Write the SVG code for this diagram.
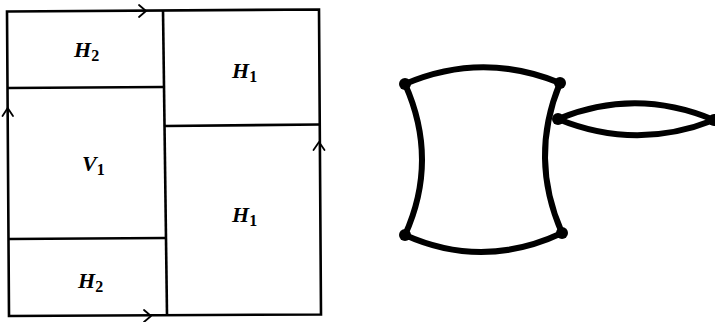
<svg xmlns="http://www.w3.org/2000/svg" width="715" height="322" viewBox="0 0 715 322">
<style>
.frame{fill:none;stroke:#000;stroke-width:2.6;stroke-linejoin:miter}
.arr{fill:none;stroke:#000;stroke-width:1.8;stroke-linecap:round;stroke-linejoin:round}
.lbl{font-family:"Liberation Serif","Times New Roman",serif;font-style:italic;font-weight:bold;font-size:22px;fill:#000}
.sub{font-style:normal;font-size:16px}
.edge{fill:none;stroke:#000;stroke-width:6;stroke-linecap:round}
.vtx{fill:#000}
</style>
<rect width="715" height="322" fill="#fff"/>
<g id="rectangles">
<polygon class="frame" points="7,11.5 319,9.5 321,314.5 9,316"/>
<line class="frame" x1="163" y1="10" x2="167" y2="315"/>
<line class="frame" x1="7.5" y1="88" x2="163.5" y2="87"/>
<line class="frame" x1="9" y1="239" x2="165.5" y2="238"/>
<line class="frame" x1="165" y1="126" x2="320" y2="124.5"/>
</g>
<g id="arrows">
<path class="arr" d="M139,5 L146,11 L139,17"/>
<path class="arr" d="M144,310 L151,316 L144,322"/>
<path class="arr" d="M2.5,116 L7.7,108 L13,116"/>
<path class="arr" d="M313.5,150 L319,142 L324.5,150"/>
</g>
<g id="node-H2-top"><text class="lbl" x="74" y="57">H<tspan class="sub" dy="4">2</tspan></text></g>
<g id="node-H1-top"><text class="lbl" x="232" y="78">H<tspan class="sub" dy="4">1</tspan></text></g>
<g id="node-V1"><text class="lbl" x="82" y="171">V<tspan class="sub" dy="4">1</tspan></text></g>
<g id="node-H1-bottom"><text class="lbl" x="232" y="222">H<tspan class="sub" dy="4">1</tspan></text></g>
<g id="node-H2-bottom"><text class="lbl" x="78" y="288">H<tspan class="sub" dy="4">2</tspan></text></g>
<g id="connectors">
<path class="edge" d="M405,84 Q482,51 560,83"/>
<path class="edge" d="M405,235 Q483,270 562,233"/>
<path class="edge" d="M405,84 Q439,160 405,235"/>
<path class="edge" d="M560,83 Q529,158 562,233"/>
<path class="edge" d="M558,119 Q636,87 714,120"/>
<path class="edge" d="M558,119 Q636,151 714,120"/>
</g>
<g id="node-v1"><circle class="vtx" cx="405" cy="84" r="6"/></g>
<g id="node-v2"><circle class="vtx" cx="560" cy="83" r="6"/></g>
<g id="node-v3"><circle class="vtx" cx="405" cy="235" r="6"/></g>
<g id="node-v4"><circle class="vtx" cx="562" cy="233" r="6"/></g>
<g id="node-v5"><circle class="vtx" cx="558" cy="119" r="6"/></g>
<g id="node-v6"><circle class="vtx" cx="714" cy="120" r="6"/></g>
</svg>
